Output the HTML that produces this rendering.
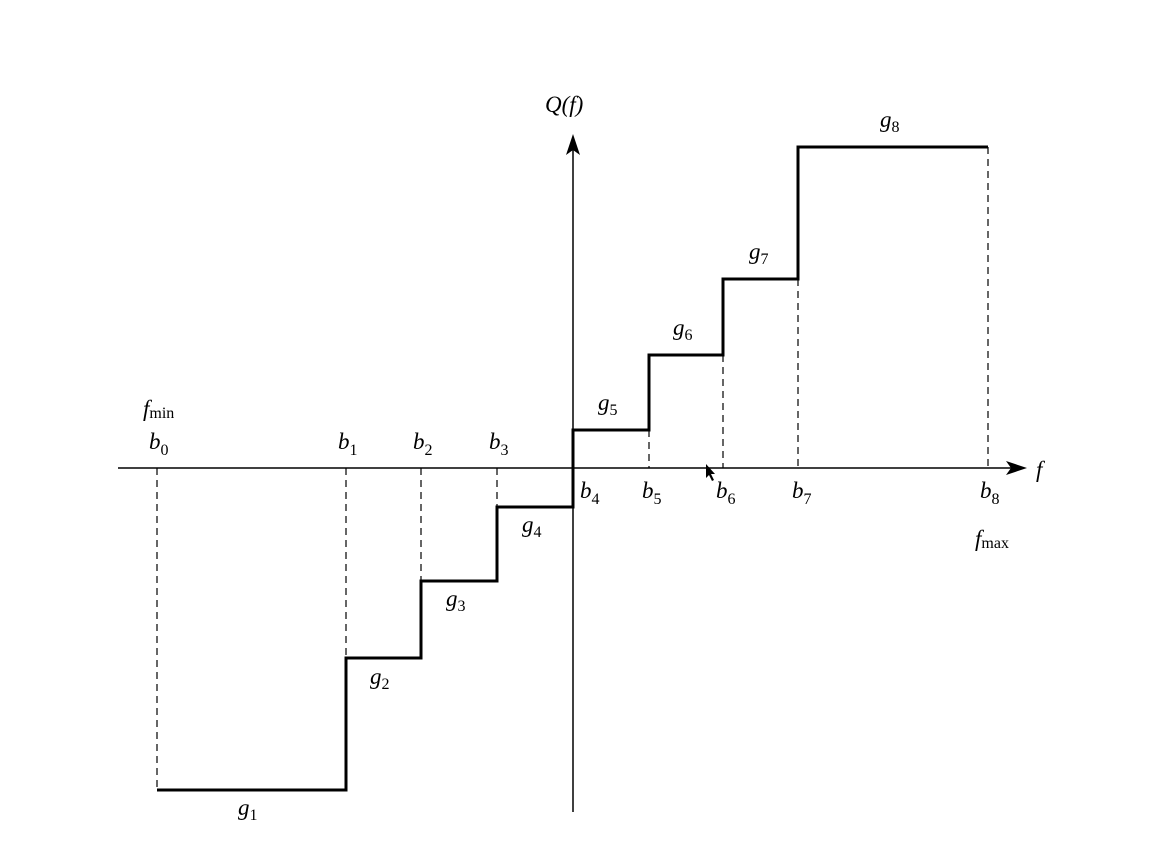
<!DOCTYPE html>
<html><head><style>html,body{margin:0;padding:0;background:#fff;}svg{display:block}</style></head>
<body>
<svg width="1154" height="852" xmlns="http://www.w3.org/2000/svg" font-family="Liberation Serif, serif" fill="#000">
<rect width="1154" height="852" fill="#fff"/>
<!-- axes -->
<line x1="118" y1="468" x2="1012" y2="468" stroke="#000" stroke-width="1.5"/>
<polygon points="1027,468 1006,461 1011,468 1006,475" fill="#000"/>
<line x1="573" y1="150" x2="573" y2="812" stroke="#000" stroke-width="1.5"/>
<polygon points="573,134 566,155 573,150 580,155" fill="#000"/>
<!-- dashed -->
<g stroke="#000" stroke-width="1.2" stroke-dasharray="7,5" fill="none">
<line x1="157" y1="468" x2="157" y2="790"/>
<line x1="346" y1="468" x2="346" y2="658"/>
<line x1="421" y1="468" x2="421" y2="581"/>
<line x1="497" y1="468" x2="497" y2="507"/>
<line x1="649" y1="430" x2="649" y2="468"/>
<line x1="723" y1="355" x2="723" y2="468"/>
<line x1="798" y1="279" x2="798" y2="468"/>
<line x1="988" y1="147" x2="988" y2="468"/>
</g>
<!-- step -->
<polyline fill="none" stroke="#000" stroke-width="3" points="157,790 346,790 346,658 421,658 421,581 497,581 497,507 573,507 573,430 649,430 649,355 723,355 723,279 798,279 798,147 988,147"/>
<g font-style="italic" font-size="23">
<text x="545" y="112">Q(f)</text>
<text x="1036" y="477">f</text>
<text x="143" y="416">f<tspan font-style="normal" font-size="16" dy="2">min</tspan></text>
<text x="975" y="546">f<tspan font-style="normal" font-size="16" dy="2">max</tspan></text>
<text x="149" y="449">b<tspan font-style="normal" font-size="16" dy="6">0</tspan></text>
<text x="338" y="449">b<tspan font-style="normal" font-size="16" dy="6">1</tspan></text>
<text x="413" y="449">b<tspan font-style="normal" font-size="16" dy="6">2</tspan></text>
<text x="489" y="449">b<tspan font-style="normal" font-size="16" dy="6">3</tspan></text>
<text x="580" y="498">b<tspan font-style="normal" font-size="16" dy="6">4</tspan></text>
<text x="642" y="498">b<tspan font-style="normal" font-size="16" dy="6">5</tspan></text>
<text x="716" y="498">b<tspan font-style="normal" font-size="16" dy="6">6</tspan></text>
<text x="792" y="498">b<tspan font-style="normal" font-size="16" dy="6">7</tspan></text>
<text x="980" y="498">b<tspan font-style="normal" font-size="16" dy="6">8</tspan></text>
<text x="238" y="815">g<tspan font-style="normal" font-size="16" dy="5">1</tspan></text>
<text x="370" y="684">g<tspan font-style="normal" font-size="16" dy="5">2</tspan></text>
<text x="446" y="606">g<tspan font-style="normal" font-size="16" dy="5">3</tspan></text>
<text x="522" y="532">g<tspan font-style="normal" font-size="16" dy="5">4</tspan></text>
<text x="598" y="410">g<tspan font-style="normal" font-size="16" dy="5">5</tspan></text>
<text x="673" y="335">g<tspan font-style="normal" font-size="16" dy="5">6</tspan></text>
<text x="749" y="259">g<tspan font-style="normal" font-size="16" dy="5">7</tspan></text>
<text x="880" y="127">g<tspan font-style="normal" font-size="16" dy="5">8</tspan></text>
</g>
<!-- cursor -->
<polygon points="706,464 706,478 709,475 712,481 714,480 711,474 715,474" fill="#000"/>
</svg>
</body></html>
